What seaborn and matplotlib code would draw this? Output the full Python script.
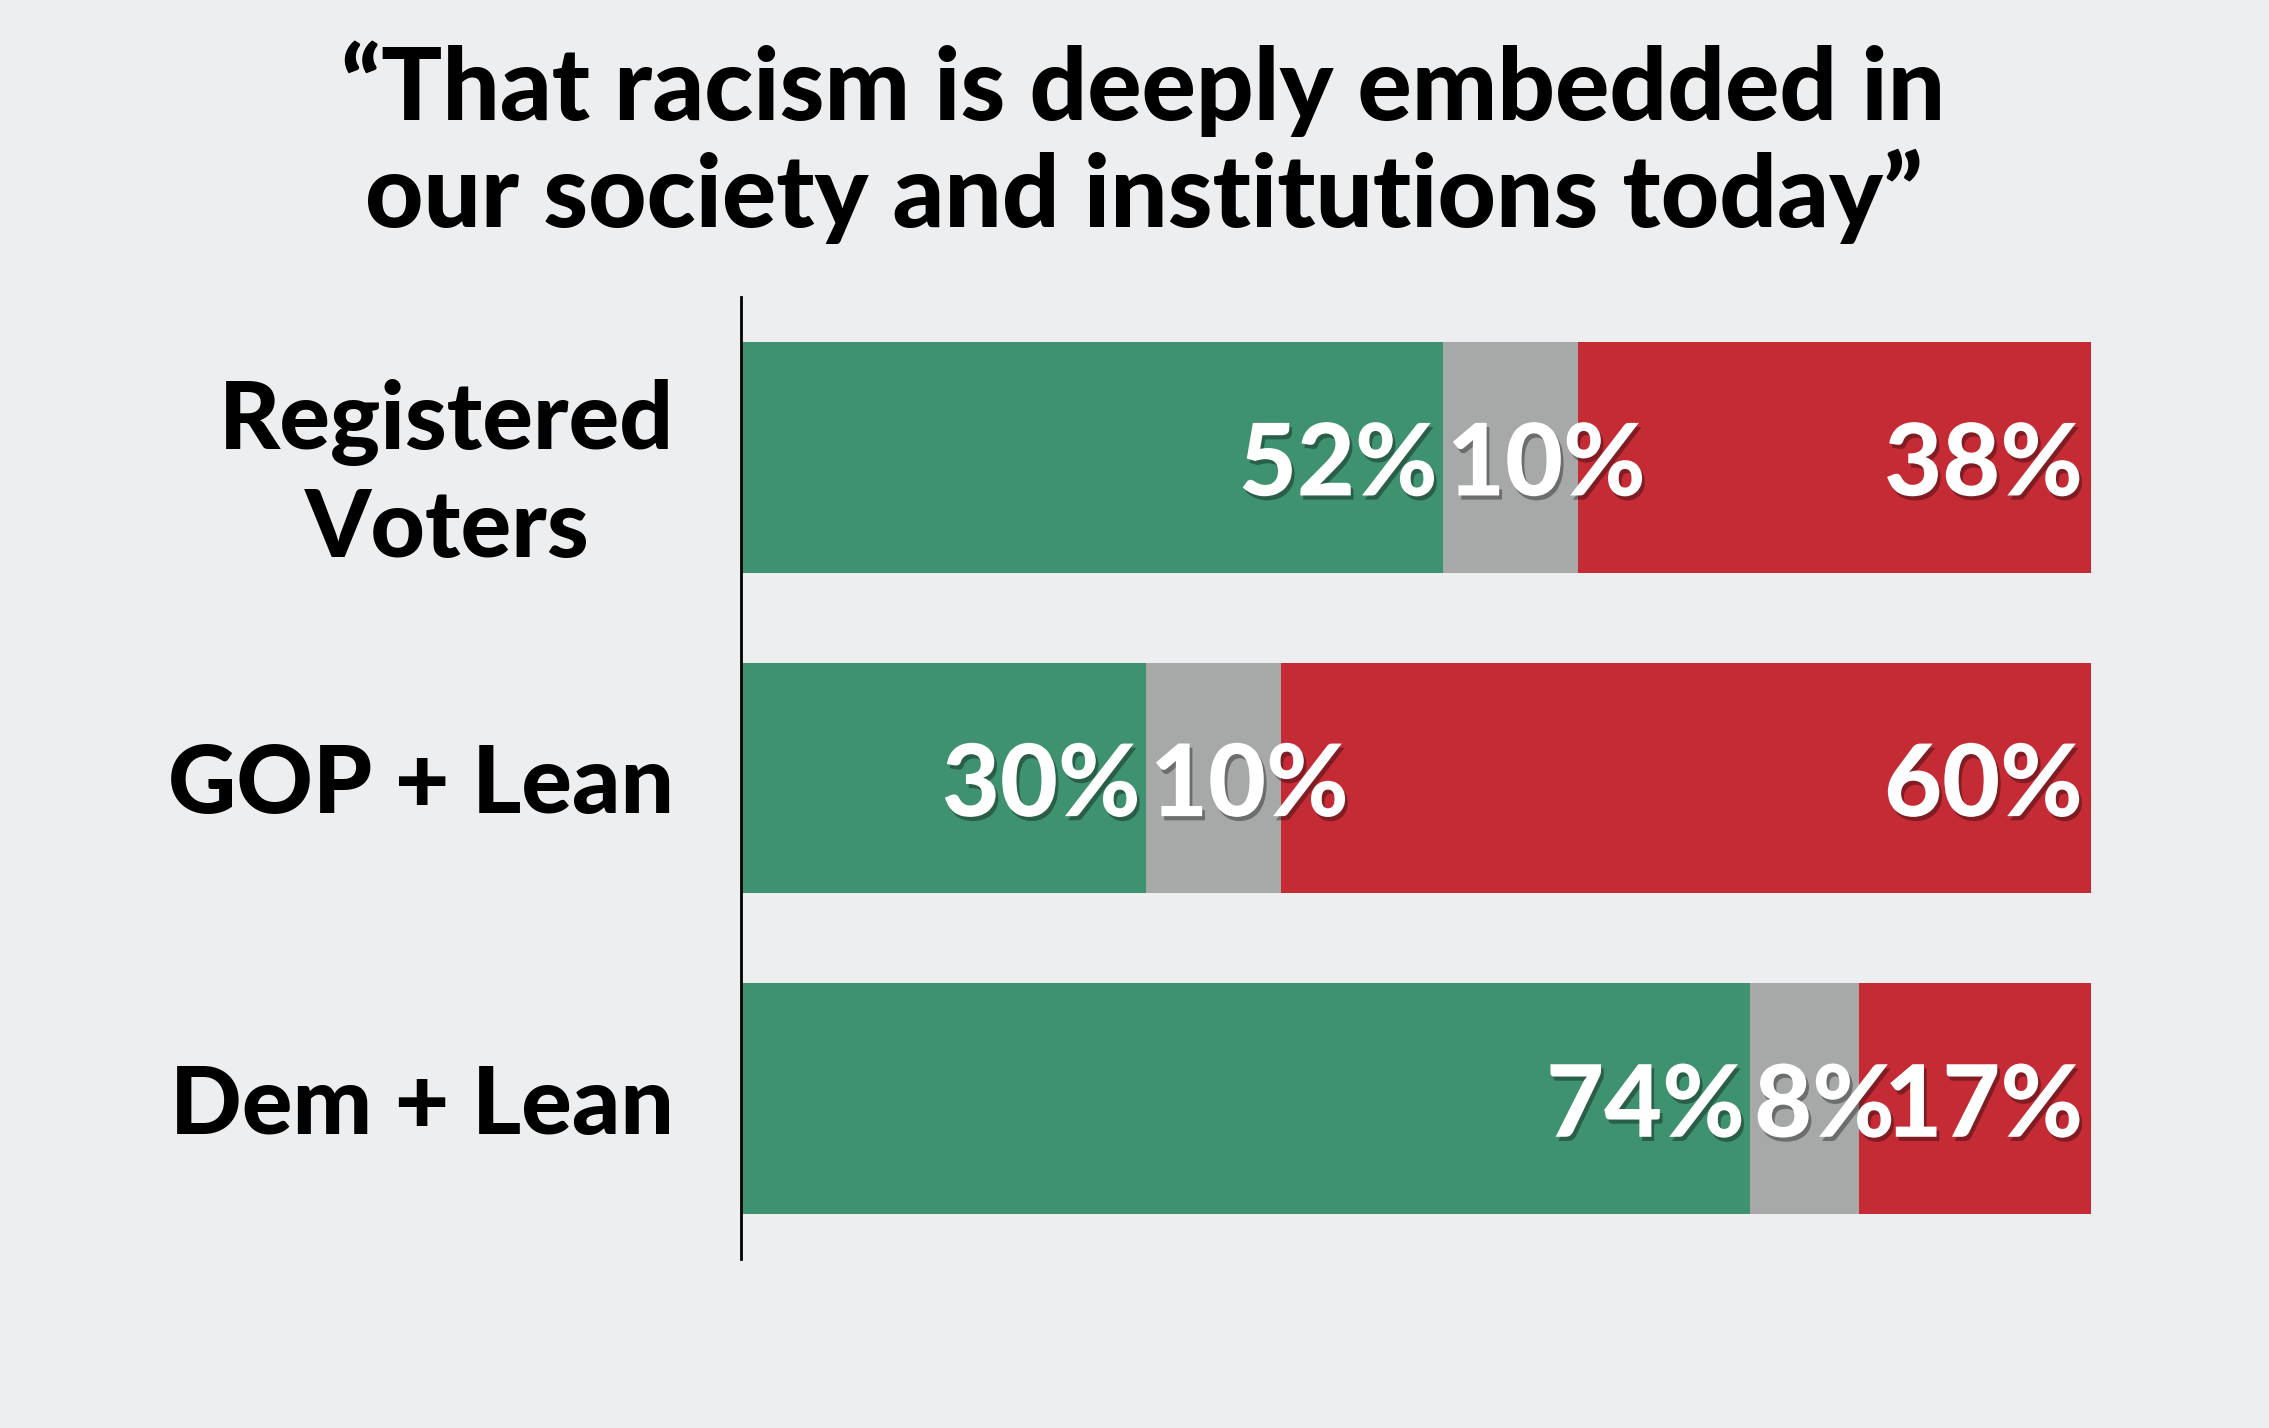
import numpy as np
import pandas as pd
import matplotlib
matplotlib.use("Agg")
import matplotlib.pyplot as plt
import matplotlib.patheffects as pe
import seaborn as sns

groups = ["Registered\nVoters", "GOP + Lean", "Dem + Lean"]
agree = [52, 30, 74]
unsure = [10, 10, 8]
disagree = [38, 60, 17]

title = "\u201cThat racism is deeply embedded in\nour society and institutions today\u201d"

green = "#3f9270"
grey = "#a6a9a8"
red = "#c52b35"
bg = "#edeef0"

sns.set_style("white")
plt.rcParams['font.family'] = ['Lato', 'DejaVu Sans']

df = pd.DataFrame({"group": groups, "agree": agree, "unsure": unsure, "disagree": disagree})
total = df[["agree", "unsure", "disagree"]].sum(axis=1)
df["c1"] = df["agree"] / total
df["c2"] = (df["agree"] + df["unsure"]) / total
df["c3"] = (df["agree"] + df["unsure"] + df["disagree"]) / total

fig = plt.figure(figsize=[22.69, 14.28], dpi=100)
fig.patch.set_facecolor(bg)
ax = fig.add_axes([741 / 2269, 1 - 1259 / 1428, 1350 / 2269, (1259 - 297) / 1428])
ax.set_facecolor(bg)

# stacked bars drawn back to front
for col, color in [("c3", red), ("c2", grey), ("c1", green)]:
    sns.barplot(data=df, y="group", x=col, color=color, orient="h", width=0.72,
                saturation=1, ax=ax, linewidth=0)

ax.set_xlim(0, 1)
ax.set_ylim(2.5, -0.5)
ax.set_xlabel("")
ax.set_ylabel("")
ax.set_xticks([])
ax.tick_params(axis="y", length=0, pad=48)
ax.set_yticks(range(len(groups)))
ax.set_yticklabels(groups, fontsize=68, fontweight=900, color="black",
                   multialignment="center", linespacing=1.3)
for s in ["top", "right", "bottom"]:
    ax.spines[s].set_visible(False)
ax.spines["left"].set_color("black")
ax.spines["left"].set_linewidth(2)

shadow = [pe.withSimplePatchShadow(offset=(2, -3), shadow_rgbFace="black", alpha=0.35)]
for i, row in df.iterrows():
    lab = dict(fontsize=72, fontweight=900, color="white", va="center", path_effects=shadow)
    # agree: right-aligned at end of green
    ax.text(row["c1"] - 0.004, i + 0.03, f"{row['agree']}%", ha="right", **lab)
    # unsure: left-aligned at start of grey
    ax.text(row["c1"] + 0.003, i + 0.03, f"{row['unsure']}%", ha="left", **lab)
    # disagree: right-aligned at end of bar
    ax.text(row["c3"] - 0.006, i + 0.03, f"{row['disagree']}%", ha="right", **lab)

fig.text(0.504, 1 - 142 / 1428, title, ha="center", va="center", fontsize=73,
         fontweight=900, color="black", linespacing=1.15)

fig.savefig("out.png", dpi=100, facecolor=bg)
